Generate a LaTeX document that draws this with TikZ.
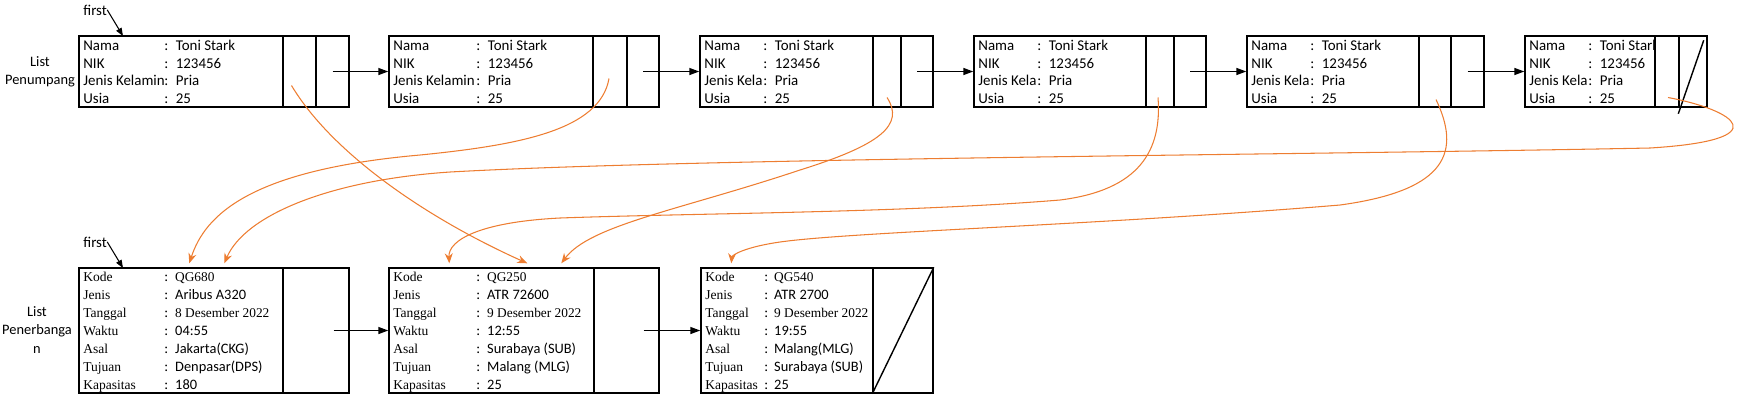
\documentclass[tikz,border=0pt]{standalone}
\usepackage{fontspec}
\setmainfont{Carlito}
\newfontfamily\cmb{Liberation Serif}
\newcommand{\srf}{\fontsize{7.6}{10}\selectfont\cmb}
\usetikzlibrary{calc}
\usetikzlibrary{fit}
\usetikzlibrary{arrows.meta}
\definecolor{linkorange}{HTML}{ED7D31}

\begin{document}
\begin{tikzpicture}[x=0.02cm, y=-0.02cm,
  cell/.style={draw, line width=0.8pt, inner sep=0pt},
  txt/.style={anchor=base west, inner sep=0pt, font=\fontsize{8.5}{10}\selectfont},
  ftxt/.style={anchor=base west, inner sep=0pt, font=\fontsize{8.2}{10}\selectfont},
  flab/.style={anchor=base west, inner sep=0pt, font=\fontsize{7.7}{10}\selectfont\cmb},
  side/.style={align=center, inner sep=0pt, font=\fontsize{8.2}{10.3}\selectfont},
  nxt/.style={line width=0.8pt, -{Triangle[length=2mm, width=1.4mm]}},
  ptr/.style={line width=0.6pt, -{Triangle[length=1.6mm, width=1.2mm]}},
  link/.style={draw=linkorange, line width=0.6pt, -{Stealth[length=2mm, width=1.6mm]}}]
\useasboundingbox (0,0) rectangle (1753,414);

\node[side] (lp) at (40,72) {List\\Penumpang};
\node[side] (lf) at (37,330) {List\\Penerbanga\\n};

\foreach \i/\xl/\xa/\xb/\xr/\cw/\jk in {1/79/283/316/349/87/Jenis Kelamin, 2/389/593/627/659/89/Jenis Kelamin, 3/700/873/901/933/65/Jenis Kela, 4/974/1146/1174/1206/65/Jenis Kela, 5/1247/1419/1451/1484/65/Jenis Kela, 6/1525/1655/1679/1707/65/Jenis Kela} {
  \node[cell, fit={(\xl,36) (\xa,107)}] (p\i) {};
  \node[cell, fit={(\xa,36) (\xb,107)}] (pa\i) {};
  \node[cell, fit={(\xb,36) (\xr,107)}] (pn\i) {};
  \begin{scope}
    \clip (\xl,36) rectangle (\xl+\cw-3,107);
    \foreach \row/\lab in {1/Nama, 2/NIK, 3/\jk, 4/Usia}
      \node[txt] (p\i-k\row) at (\xl+4, 32.8+17.7*\row) {\lab};
  \end{scope}
  \begin{scope}
    \clip (\xl+\cw-3,36) rectangle (\xa,107);
    \foreach \row/\val in {1/Toni Stark, 2/123456, 3/Pria, 4/25}
      \node[txt] (p\i-v\row) at (\xl+\cw-2, 32.8+17.7*\row) {:\hspace{0.15cm}\val};
  \end{scope}
}
\foreach \i [evaluate=\i as \j using int(\i+1)] in {1,...,5}
  \draw[nxt] (pn\i.center) -- (p\j.west);
\draw[line width=0.8pt] ($(pn6.south west)+(0,6)$) -- ($(pn6.north east)+(-4,5)$);

\node[cell, fit={(79,268) (283,393)}] (f1) {};
\node[cell, fit={(283,268) (349,393)}] (fn1) {};
\node[cell, fit={(389,268) (594,393)}] (f2) {};
\node[cell, fit={(594,268) (659,393)}] (fn2) {};
\node[cell, fit={(701,268) (873,393)}] (f3) {};
\node[cell, fit={(873,268) (933,393)}] (fn3) {};
\foreach \row/\lab/\va/\vb/\vc in {1/Kode/{\srf QG680}/{\srf QG250}/{\srf QG540},
    2/Jenis/Aribus A320/ATR 72600/ATR 2700,
    3/Tanggal/{\srf 8 Desember 2022}/{\srf 9 Desember 2022}/{\srf 9 Desember 2022},
    4/Waktu/04:55/12:55/19:55,
    5/Asal/Jakarta(CKG)/Surabaya (SUB)/Malang(MLG),
    6/Tujuan/Denpasar(DPS)/Malang (MLG)/Surabaya (SUB),
    7/Kapasitas/180/25/25} {
  \node[flab] (f1-k\row) at (83, 263+18*\row) {\lab};
  \node[flab] (f2-k\row) at (393, 263+18*\row) {\lab};
  \node[flab] (f3-k\row) at (705, 263+18*\row) {\lab};
  \node[ftxt] (f1-v\row) at (164, 263+18*\row) {:\hspace{0.14cm}\va};
  \node[ftxt] (f2-v\row) at (476, 263+18*\row) {:\hspace{0.14cm}\vb};
  \node[ftxt] (f3-v\row) at (764, 263+18*\row) {:\hspace{0.12cm}\vc};
}
\draw[nxt] ($(fn1.east)+(-16,0)$) -- (f2.west);
\draw[nxt] ($(fn2.east)+(-16,0)$) -- (f3.west);
\draw[line width=0.8pt] (fn3.south west) -- (fn3.north east);

\node[txt] (fp) at (83,15) {first};
\coordinate (hp) at (123,36);
\draw[ptr] (fp.east) -- (hp);
\node[txt] (ff) at (83,247) {first};
\coordinate (hf) at (123,268);
\draw[ptr] (ff.east) -- (hf);

\draw[link] ($(pa1.center)+(-8,14)$) .. controls (330,150) and (420,215) .. ($(f2.north west)+(139,-4)$);
\draw[link] ($(pa2.center)+(-1,7)$) .. controls (600,130) and (520,145) .. (420,155)
  .. controls (250,170) and (205,215) .. ($(f1.north west)+(111,-4)$);
\draw[link] ($(pa3.center)+(0,26)$) .. controls (905,125) and (880,145) .. (800,170)
  .. controls (680,210) and (590,225) .. ($(f2.north west)+(173,-4)$);
\draw[link] ($(pa4.center)+(-2,26)$) .. controls (1162,150) and (1140,190) .. (1060,200)
  .. controls (900,213) and (700,213) .. (560,218)
  .. controls (480,222) and (448,240) .. ($(f2.north west)+(61,-4)$);
\draw[link] ($(pa5.center)+(1,28)$) .. controls (1460,150) and (1450,190) .. (1340,205)
  .. controls (1100,225) and (850,232) .. (780,242)
  .. controls (745,247) and (732,255) .. ($(f3.north west)+(31,-4)$);
\draw[link] ($(pa6.center)+(1,26)$) .. controls (1735,110) and (1780,140) .. (1650,148)
  .. controls (1300,155) and (700,158) .. (450,172)
  .. controls (330,180) and (245,215) .. ($(f1.north west)+(146,-4)$);
\end{tikzpicture}
\end{document}
